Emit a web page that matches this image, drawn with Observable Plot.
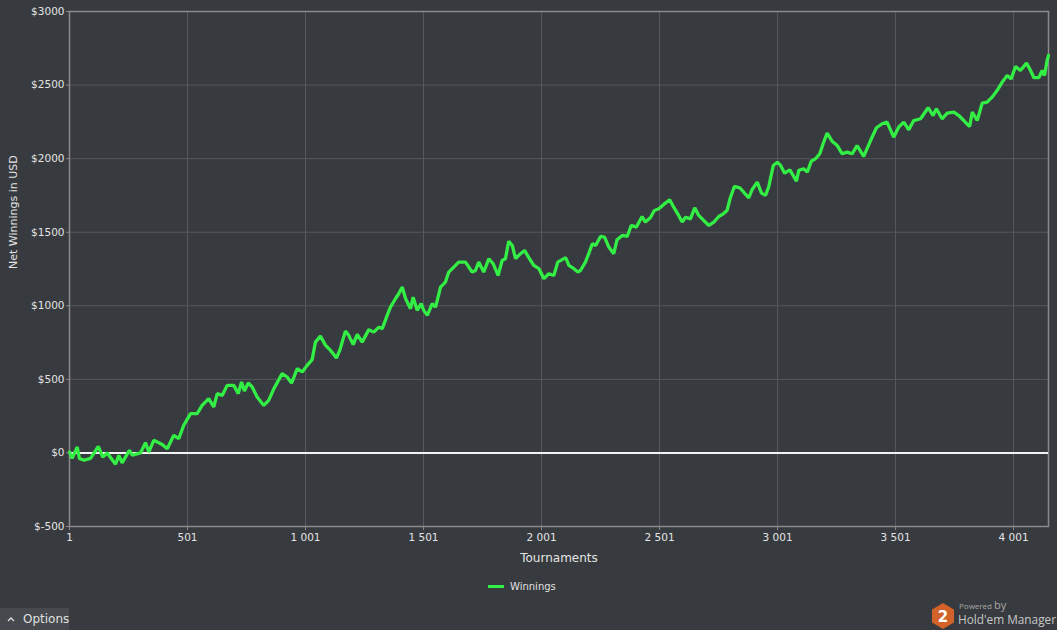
<!DOCTYPE html>
<html>
<head>
<meta charset="utf-8">
<script src="https://cdn.jsdelivr.net/npm/d3@7"></script>
<script src="https://cdn.jsdelivr.net/npm/@observablehq/plot@0.6"></script>
<style>
  html, body { margin: 0; padding: 0; background: #373a3e; width: 1057px; height: 630px; overflow: hidden; font-family: "DejaVu Sans", sans-serif; }
  #wrap { position: relative; width: 1057px; height: 630px; }
  #chart { position: absolute; left: 0; top: 0; }
  #legend { position: absolute; left: 488px; top: 581px; display: flex; align-items: center; color: #e0e0e0; font-size: 10px; }
  #legend .sw { width: 16px; height: 3px; background: #33ee44; margin-right: 6px; }
  #options { position: absolute; left: 0; top: 608px; width: 69px; height: 22px; background: #46494d; color: #e0e0e0; font-size: 12px; line-height: 22px; }
  #options svg { position: absolute; left: 7px; top: 9px; }
  #options span { position: absolute; left: 23px; top: 0; }
  #brand { position: absolute; left: 931px; top: 601px; width: 126px; height: 29px; }
  #brand .p { position: absolute; left: 28px; top: -2px; font-family: "Open Sans", sans-serif; font-size: 8px; color: #a8a8a8; line-height: 12px; height: 12px; white-space: nowrap; }
  #brand .p b { font-weight: normal; font-size: 11px; }
  #brand .h { position: absolute; left: 27px; top: 11px; font-family: "Open Sans", sans-serif; font-size: 11.8px; color: #c8c8c8; white-space: nowrap; line-height: 14px; height: 14px; }
</style>
</head>
<body>
<div id="wrap">
  <div id="chart"></div>
  <div id="legend"><div class="sw"></div><span>Winnings</span></div>
  <div id="options"><svg width="8" height="5"><polyline points="1,4 4,1 7,4" fill="none" stroke="#e0e0e0" stroke-width="1.3"/></svg><span>Options</span></div>
  <div id="brand">
    <svg width="24" height="28" style="position:absolute;left:0;top:1px">
      <polygon points="12,1 23,7.5 23,20.5 12,27 1,20.5 1,7.5" fill="#d2622a"/>
      <text x="12" y="20" text-anchor="middle" fill="#ffffff" font-size="15" font-weight="bold" font-family="DejaVu Sans">2</text>
    </svg>
    <div class="p">Powered <b>by</b></div>
    <div class="h">Hold'em Manager</div>
  </div>
</div>
<script>
const tournaments = [1,12,34,43,62,90,104,123,142,161,196,210,224,255,267,302,323,337,358,394,415,443,464,485,514,542,563,591,612,627,648,669,697,716,730,742,758,775,796,824,845,867,902,923,942,966,987,1008,1029,1043,1064,1086,1107,1132,1146,1170,1184,1203,1220,1241,1269,1290,1312,1326,1347,1361,1382,1396,1411,1425,1446,1457,1474,1491,1502,1517,1538,1552,1573,1594,1608,1629,1650,1679,1707,1721,1735,1756,1778,1796,1817,1834,1848,1862,1877,1891,1912,1929,1947,1968,1990,2011,2032,2053,2070,2103,2117,2138,2155,2166,2187,2201,2216,2230,2251,2268,2286,2307,2321,2343,2364,2381,2403,2427,2441,2462,2479,2498,2519,2544,2561,2582,2597,2611,2632,2650,2667,2688,2710,2731,2752,2771,2787,2801,2818,2841,2861,2879,2893,2915,2933,2950,2964,2983,3000,3014,3031,3053,3081,3091,3112,3127,3144,3162,3180,3194,3211,3232,3254,3275,3296,3317,3338,3366,3395,3420,3444,3465,3493,3514,3536,3557,3578,3607,3639,3660,3674,3698,3720,3748,3769,3790,3815,3826,3847,3868,3889,3910,3931,3953,3974,3991,4009,4030,4056,4073,4087,4108,4122,4132,4143,4149];
const winnings = [6,-37,40,-37,-50,-37,-3,45,-28,0,-77,-16,-68,18,-16,0,70,6,86,58,29,120,97,188,267,267,323,369,312,403,391,459,459,403,482,420,475,448,380,323,357,437,539,516,475,573,550,595,634,753,794,731,697,645,697,828,799,736,806,753,838,821,855,844,935,991,1048,1082,1127,1048,980,1059,969,1014,969,935,1014,991,1127,1161,1229,1263,1297,1297,1229,1240,1297,1229,1320,1286,1206,1308,1320,1439,1410,1320,1354,1376,1327,1274,1252,1184,1218,1206,1297,1327,1274,1252,1229,1240,1297,1354,1422,1410,1471,1467,1399,1354,1449,1478,1471,1546,1535,1607,1569,1598,1648,1659,1689,1721,1670,1614,1569,1602,1591,1666,1614,1580,1546,1569,1607,1625,1648,1734,1811,1802,1766,1734,1789,1840,1766,1750,1811,1954,1976,1954,1901,1924,1847,1920,1931,1908,1983,1999,2033,2101,2173,2119,2089,2033,2044,2033,2089,2015,2123,2210,2237,2248,2146,2214,2248,2196,2259,2271,2346,2293,2339,2271,2309,2316,2293,2259,2218,2316,2259,2377,2384,2418,2463,2520,2565,2542,2626,2599,2649,2599,2550,2550,2599,2565,2667,2701];
const xTicks = [1,501,1001,1501,2001,2501,3001,3501,4001];
const yTicks = [-500,0,500,1000,1500,2000,2500,3000];
const xDomain = [1, 4149];
const yDomain = [-500, 3000];

const data = tournaments.map((t, i) => ({t, v: winnings[i]}));
const fmtX = d => d3.format(",")(d).replace(/,/g, " ");
const fmtY = d => "$" + d;

const chart = Plot.plot({
  width: 1057,
  height: 570,
  marginLeft: 69,
  marginRight: 9,
  marginTop: 11,
  marginBottom: 44,
  style: {background: "transparent", color: "#e4e4e4", fontFamily: "DejaVu Sans", fontSize: "10.5px"},
  x: {domain: xDomain, label: null},
  y: {domain: yDomain, label: null},
  marks: [
    Plot.gridX(xTicks, {stroke: "#56595d", strokeOpacity: 1}),
    Plot.gridY(yTicks, {stroke: "#56595d", strokeOpacity: 1}),
    Plot.frame({stroke: "#8a8a8a", strokeWidth: 1.5}),
    Plot.ruleY([0], {stroke: "#f2f2f2", strokeWidth: 2}),
    Plot.line(data, {x: "t", y: "v", stroke: "#33ee44", strokeWidth: 3.3, strokeLinejoin: "miter", curve: "linear"}),
    Plot.axisX(xTicks, {tickFormat: fmtX, tickSize: 4, tickPadding: 3, stroke: "#8a8a8a", label: null}),
    Plot.axisY(yTicks, {tickFormat: fmtY, tickSize: 3, tickPadding: 2, stroke: "#8a8a8a", label: null}),
    Plot.text(["Tournaments"], {frameAnchor: "bottom", dy: 35, fontSize: 12, fill: "#e4e4e4"}),
    Plot.text(["Net Winnings in USD"], {frameAnchor: "left", dx: -56, rotate: -90, fontSize: 11, fill: "#e4e4e4"})
  ]
});
document.getElementById("chart").appendChild(chart);
</script>
</body>
</html>
